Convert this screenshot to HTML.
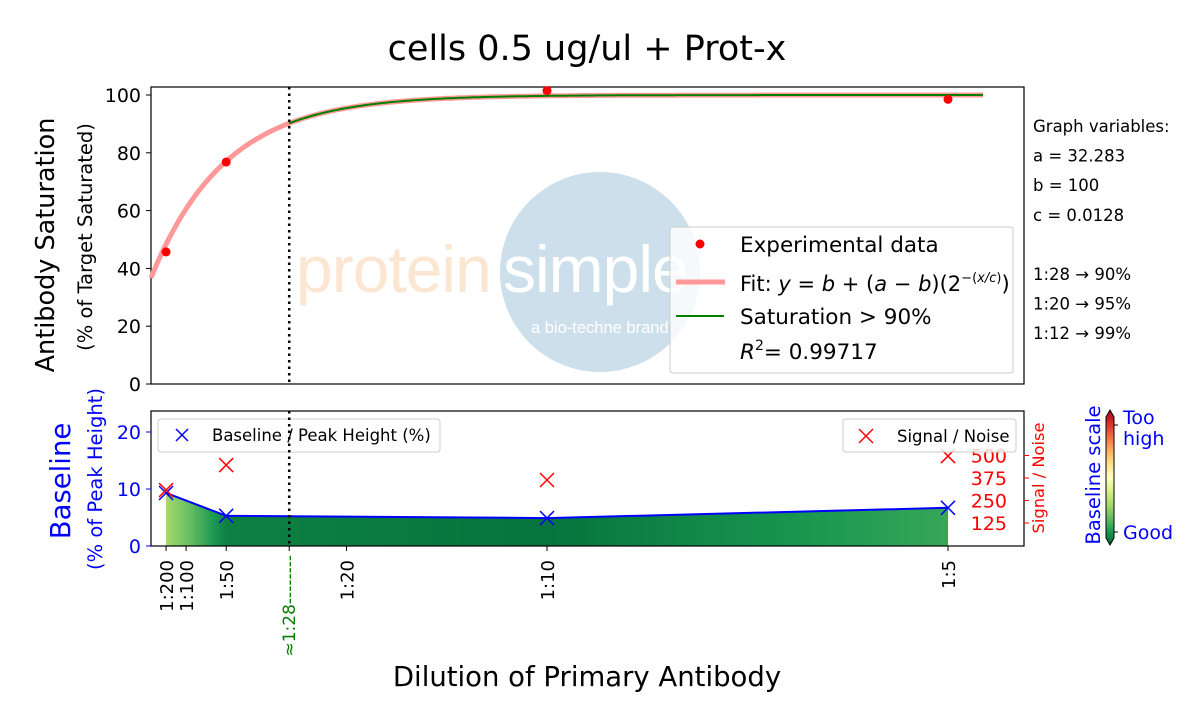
<!DOCTYPE html>
<html><head><meta charset="utf-8"><style>
body{margin:0;background:#fff}
svg{font-family:"DejaVu Sans","Liberation Sans",sans-serif}
</style></head><body>
<svg id="c" width="1200" height="700" xmlns="http://www.w3.org/2000/svg">
<defs>
<linearGradient id="cbar" x1="0" y1="1" x2="0" y2="0">
<stop offset="0" stop-color="#006837"/><stop offset="0.1" stop-color="#1a9850"/><stop offset="0.2" stop-color="#66bd63"/><stop offset="0.3" stop-color="#a6d96a"/><stop offset="0.4" stop-color="#d9ef8b"/><stop offset="0.5" stop-color="#ffffbf"/><stop offset="0.6" stop-color="#fee08b"/><stop offset="0.7" stop-color="#fdae61"/><stop offset="0.8" stop-color="#f46d43"/><stop offset="0.9" stop-color="#d73027"/><stop offset="1" stop-color="#a50026"/>
</linearGradient>
<linearGradient id="areaGrad" gradientUnits="userSpaceOnUse" x1="0" y1="0" x2="1200" y2="0"></linearGradient>
</defs>
<text x="587" y="60" font-size="35" text-anchor="middle">cells 0.5 ug/ul + Prot-x</text>
<g id="topg"></g>
<g id="botg"></g>
<text x="587" y="686" font-size="27.5" text-anchor="middle">Dilution of Primary Antibody</text>
</svg>
<script>
const NS="http://www.w3.org/2000/svg";
// data
const dilutionLabels=["1:200","1:100","1:50","1:20","1:10","1:5"];
const dilutionValues=[200,100,50,20,10,5];
const expDilutions=[200,50,10,5];
const expSaturation=[45.7,76.8,101.5,98.5];
const baselinePct=[9.3,5.3,4.9,6.7];
const signalNoise=[308,447,364,497];
const fitA=32.283, fitB=100, fitC=0.0128;
const sat90Dilution=28;
const yTicksTop=[0,20,40,60,80,100];
const yTicksBot=[0,10,20];
const snTicks=[125,250,375,500];
const sideText=["Graph variables:","a = 32.283","b = 100","c = 0.0128","","1:28 \u2192 90%","1:20 \u2192 95%","1:12 \u2192 99%"];

const L=151,R=1024,T1=87,B1=384,T2=411,B2=546;
const xs=x=>146+x*4010;
const yTop=v=>B1-v*2.89;
const yBot=v=>B2-v*5.7;
const ySN=v=>545.5-v*0.18;
const fit=x=>fitB+(fitA-fitB)*Math.pow(2,-x/fitC);

function mk(tag,attrs,parent,text){const e=document.createElementNS(NS,tag);for(const k in attrs)e.setAttribute(k,attrs[k]);if(text!==undefined)e.textContent=text;parent.appendChild(e);return e;}
const svg=document.getElementById('c');
const topG=document.getElementById('topg'), botG=document.getElementById('botg');
let e;

// ---- top panel
e=mk('rect',{x:L,y:T1,width:R-L,height:B1-T1,fill:'none',stroke:'#000','stroke-width':1.2},topG);


yTicksTop.forEach(v=>{
  mk('line',{x1:L-5,x2:L,y1:yTop(v),y2:yTop(v),stroke:'#000'},topG);
  const t=mk('text',{x:L-10,y:yTop(v)+7,'font-size':19,'text-anchor':'end'},topG,v);
  
  
});
e=mk('text',{transform:'translate(54,245) rotate(-90)','font-size':25.5,'text-anchor':'middle'},topG,'Antibody Saturation');


e=mk('text',{transform:'translate(92,237) rotate(-90)','font-size':19.5,'text-anchor':'middle'},topG,'(% of Target Saturated)');



// watermark
const wm=mk('g',{},topG);


mk('circle',{cx:600,cy:272,r:100,fill:'#cddfeb'},wm);
mk('text',{x:296,y:292,'font-size':66,fill:'#fbe6d2','font-family':'Liberation Sans, sans-serif','letter-spacing':-1},wm,'protein');
mk('text',{x:503,y:292,'font-size':66,fill:'#fff','font-family':'Liberation Sans, sans-serif','letter-spacing':-1},wm,'simple');
mk('text',{x:531,y:333,'font-size':16.5,fill:'#fff','font-family':'Liberation Sans, sans-serif'},wm,'a bio-techne brand');

// fit curve
let d='';
for(let x=0.00125;x<=0.209;x+=0.0005){d+=(d?'L':'M')+xs(x).toFixed(1)+','+yTop(fit(x)).toFixed(1);}
e=mk('path',{d:d,fill:'none',stroke:'#ff9999','stroke-width':5},topG);


d='';
for(let x=1/sat90Dilution;x<=0.209;x+=0.0005){d+=(d?'L':'M')+xs(x).toFixed(1)+','+yTop(fit(x)).toFixed(1);}
e=mk('path',{d:d,fill:'none',stroke:'#008000','stroke-width':2},topG);


expDilutions.forEach((dd,i)=>{
  const c=mk('circle',{cx:xs(1/dd),cy:yTop(expSaturation[i]),r:4.5,fill:'#ff0000'},topG);
  
  
});
// legend
const lg=mk('g',{},topG);


mk('rect',{x:670,y:227,width:343,height:146,rx:3,fill:'#fff','fill-opacity':0.8,stroke:'#ccc'},lg);
mk('circle',{cx:700,cy:244,r:4.5,fill:'#ff0000'},lg);
mk('text',{x:740,y:252,'font-size':21.5},lg,'Experimental data');
mk('line',{x1:676,x2:725,y1:282,y2:282,stroke:'#ff9999','stroke-width':5},lg);
const ft=mk('text',{x:740,y:291,'font-size':21},lg);
ft.innerHTML='Fit: <tspan font-style="italic">y</tspan> = <tspan font-style="italic">b</tspan> + (<tspan font-style="italic">a</tspan> \u2212 <tspan font-style="italic">b</tspan>)(2<tspan font-size="13" dy="-9">\u2212(<tspan font-style="italic">x/c</tspan>)</tspan><tspan dy="9">)</tspan>';
mk('line',{x1:676,x2:724,y1:316,y2:316,stroke:'#008000','stroke-width':2},lg);
mk('text',{x:740,y:324,'font-size':21.5},lg,'Saturation > 90%');
const r2=mk('text',{x:740,y:359,'font-size':21.5},lg);
r2.innerHTML='<tspan font-style="italic">R</tspan><tspan font-size="14" dy="-9">2</tspan><tspan dy="9">= 0.99717</tspan>';
// side text
sideText.forEach((s,i)=>{
  if(!s)return;
  const t=mk('text',{x:1033,y:132+i*29.6,'font-size':16.5},topG,s);
  
  
});
// vertical dotted line
[[T1,B1],[T2,B2]].forEach(p=>{
  const l=mk('line',{x1:xs(1/sat90Dilution),x2:xs(1/sat90Dilution),y1:p[0],y2:p[1],stroke:'#000','stroke-width':2.5,'stroke-dasharray':'2.5,4'},svg);
  
  
});

// ---- bottom panel
const cmap=['#006837','#1a9850','#66bd63','#a6d96a','#d9ef8b','#ffffbf','#fee08b','#fdae61','#f46d43','#d73027','#a50026'];
function hex(h){return [1,3,5].map(i=>parseInt(h.substr(i,2),16));}
function col(v){let t=Math.max(0,Math.min(1,(v-4.5)/16))*10;const i=Math.min(9,Math.floor(t)),f=t-i;const a=hex(cmap[i]),b=hex(cmap[i+1]);return 'rgb('+a.map((c,k)=>Math.round(c+(b[k]-c)*f)).join(',')+')';}
const xsB=expDilutions.map(dd=>xs(1/dd));
const grad=document.getElementById('areaGrad');
for(let i=0;i<xsB.length-1;i++){
  for(let s=0;s<=10;s++){
    const px=xsB[i]+(xsB[i+1]-xsB[i])*s/10;
    const v=baselinePct[i]+(baselinePct[i+1]-baselinePct[i])*s/10;
    mk('stop',{offset:(px/1200).toFixed(4),'stop-color':col(v)},grad);
  }
}
let ad='M'+xsB[0]+','+B2;
xsB.forEach((x,i)=>ad+='L'+x+','+yBot(baselinePct[i]));
ad+='L'+xsB[xsB.length-1]+','+B2+'Z';
e=mk('path',{d:ad,fill:'url(#areaGrad)'},botG);


e=mk('rect',{x:L,y:T2,width:R-L,height:B2-T2,fill:'none',stroke:'#000','stroke-width':1.2},botG);


e=mk('polyline',{points:xsB.map((x,i)=>x+','+yBot(baselinePct[i])).join(' '),fill:'none',stroke:'#0000ff','stroke-width':2},botG);


function xmark(cx,cy,c,name){const g=mk('g',{stroke:c,'stroke-width':1.5},botG);mk('line',{x1:cx-7,y1:cy-7,x2:cx+7,y2:cy+7},g);mk('line',{x1:cx-7,y1:cy+7,x2:cx+7,y2:cy-7},g);}
xsB.forEach((x,i)=>xmark(x,yBot(baselinePct[i]),'#0000ff','baseline-marker'));
xsB.forEach((x,i)=>xmark(x,ySN(signalNoise[i]),'#ff0000','signal-noise-marker'));
yTicksBot.forEach(v=>{
  mk('line',{x1:L-5,x2:L,y1:yBot(v),y2:yBot(v),stroke:'#0000ff'},botG);
  const t=mk('text',{x:L-10,y:yBot(v)+7,'font-size':19,'text-anchor':'end',fill:'#0000ff'},botG,v);
  
  
});
snTicks.forEach(v=>{
  mk('line',{x1:R,x2:R+5,y1:ySN(v),y2:ySN(v),stroke:'#ff0000'},botG);
  const t=mk('text',{x:1007,y:ySN(v)+7,'font-size':19,'text-anchor':'end',fill:'#ff0000'},botG,v);
  
  
});
e=mk('text',{transform:'translate(70,481) rotate(-90)','font-size':27.5,'text-anchor':'middle',fill:'#0000ff'},botG,'Baseline');


e=mk('text',{transform:'translate(102,479) rotate(-90)','font-size':19.5,'text-anchor':'middle',fill:'#0000ff'},botG,'(% of Peak Height)');


e=mk('text',{transform:'translate(1044,478) rotate(-90)','font-size':16.3,'text-anchor':'middle',fill:'#ff0000'},botG,'Signal / Noise');


// legends
let g=mk('g',{},botG);


mk('rect',{x:158,y:419,width:282,height:33,rx:3,fill:'#fff','fill-opacity':0.8,stroke:'#ccc'},g);
mk('line',{x1:176,y1:429,x2:188,y2:441,stroke:'#0000ff','stroke-width':1.5},g);
mk('line',{x1:176,y1:441,x2:188,y2:429,stroke:'#0000ff','stroke-width':1.5},g);
mk('text',{x:212,y:441,'font-size':16.5},g,'Baseline / Peak Height (%)');
g=mk('g',{},botG);


mk('rect',{x:843,y:419,width:173,height:33,rx:3,fill:'#fff','fill-opacity':0.8,stroke:'#ccc'},g);
mk('line',{x1:859,y1:429,x2:873,y2:443,stroke:'#ff0000','stroke-width':1.5},g);
mk('line',{x1:859,y1:443,x2:873,y2:429,stroke:'#ff0000','stroke-width':1.5},g);
mk('text',{x:897,y:442,'font-size':16.5},g,'Signal / Noise');
// x ticks
dilutionValues.forEach((dv,i)=>{
  const x=xs(1/dv);
  mk('line',{x1:x,x2:x,y1:B2,y2:B2+5,stroke:'#000'},botG);
  const t=mk('text',{transform:'translate('+(x+7)+','+(B2+14)+') rotate(-90)','font-size':18,'text-anchor':'end'},botG,dilutionLabels[i]);
  
  
});
const x28=xs(1/sat90Dilution);
mk('line',{x1:x28,x2:x28,y1:B2,y2:B2+5,stroke:'#000'},botG);
e=mk('text',{transform:'translate('+(x28+6)+','+(B2+9)+') rotate(-90)','font-size':17,'text-anchor':'end',fill:'#008000'},botG,'\u22481:28--------');


// colorbar
g=mk('g',{},botG);


mk('path',{d:'M1106,417 L1110,410 L1114,417 L1114,538 L1110,545 L1106,538 Z',fill:'url(#cbar)',stroke:'#000','stroke-width':1},g);
mk('line',{x1:1114,x2:1118,y1:425,y2:425,stroke:'#000'},g);
mk('line',{x1:1114,x2:1118,y1:532,y2:532,stroke:'#000'},g);
mk('text',{x:1123,y:424,'font-size':19,fill:'#0000ff'},g,'Too');
mk('text',{x:1123,y:445,'font-size':19,fill:'#0000ff'},g,'high');
mk('text',{x:1123,y:539,'font-size':19,fill:'#0000ff'},g,'Good');
mk('text',{transform:'translate(1100,475) rotate(-90)','font-size':19.5,'text-anchor':'middle',fill:'#0000ff'},g,'Baseline scale');
</script>
</body></html>
